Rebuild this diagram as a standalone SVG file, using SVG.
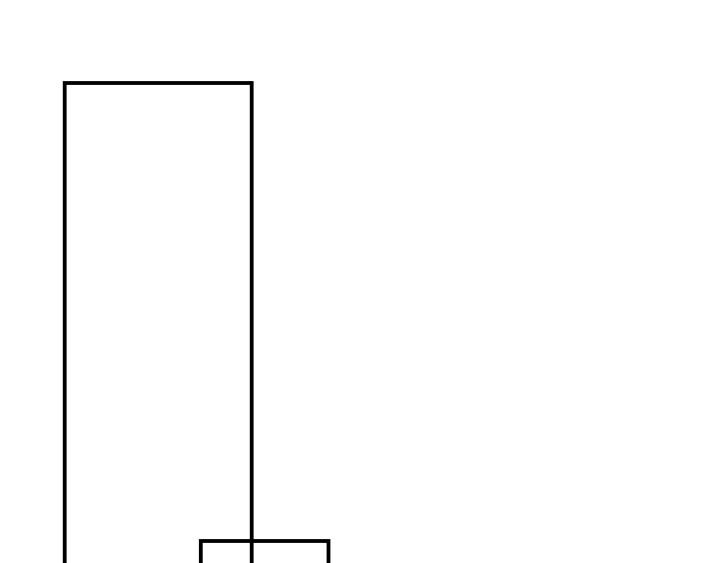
<svg xmlns="http://www.w3.org/2000/svg" width="720" height="563" viewBox="0 0 720 563">
<style>.box{fill:none;stroke:#000;stroke-width:3.8}</style>
<rect width="720" height="563" fill="#fff"/>
<g id="tall-box"><rect class="box" x="64.7" y="83" width="187" height="520"/></g>
<g id="small-box"><rect class="box" x="200.8" y="541" width="127.7" height="80"/></g>
<g id="connectors"></g>
</svg>
